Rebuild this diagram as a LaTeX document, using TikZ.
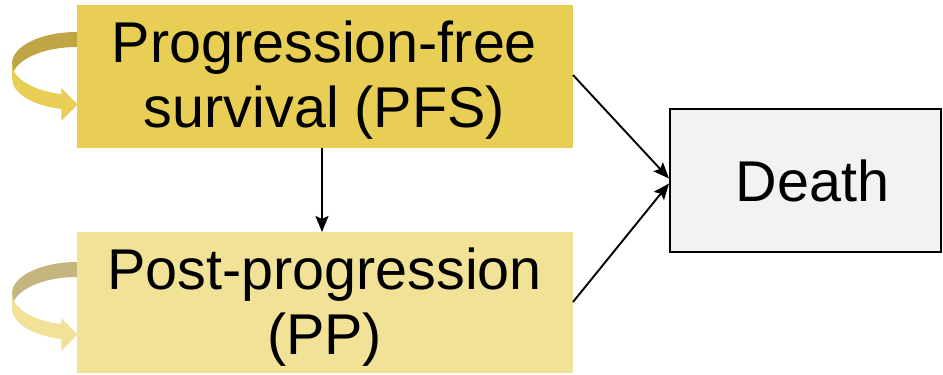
\documentclass[tikz,border=0pt]{standalone}
\usepackage{fontspec}
\setmainfont{Liberation Sans}
\usetikzlibrary{arrows.meta,calc}
\definecolor{pfsfill}{RGB}{232,206,85}
\definecolor{pfsdark}{RGB}{191,165,68}
\definecolor{ppfill}{RGB}{242,226,151}
\definecolor{ppdark}{RGB}{196,182,126}
\definecolor{deathfill}{RGB}{242,242,242}
\begin{document}
\begin{tikzpicture}[x=1pt,y=1pt,
  statebox/.style={draw=none,minimum width=496pt,inner sep=0pt,outer sep=0pt},
  deathbox/.style={draw=black,line width=2pt,fill=deathfill,minimum width=271pt,minimum height=143pt,inner sep=0pt,outer sep=1pt},
  lbl/.style={align=center,inner sep=0pt,font=\fontsize{57.5}{65}\selectfont},
  conn/.style={line width=1.9pt,-{Stealth[length=16pt,width=13pt,inset=3pt]}},
]
\useasboundingbox (0,0) rectangle (943,-375);
% self-loop ribbons
\foreach \dy/\dk/\lt in {0/pfsdark/pfsfill, -230/ppdark/ppfill}{
  \begin{scope}[yshift=\dy]
    \fill[\dk] (77,-32) arc[start angle=90,end angle=180,x radius=65,y radius=31.5]
      -- (12,-78.5) arc[start angle=180,end angle=90,x radius=65,y radius=31.5] -- cycle;
    \fill[\lt] (12,-63.5) arc[start angle=180,end angle=256,x radius=65,y radius=31.5]
      -- (61.3,-88) -- (77.5,-104.5) -- (61.3,-121) -- (61.3,-109.06)
      arc[start angle=256,end angle=180,x radius=65,y radius=31.5] -- cycle;
  \end{scope}
}
% boxes
\node[statebox,fill=pfsfill,minimum height=143pt] (pfs) at (324.5,-76.5) {};
\node[statebox,fill=ppfill,minimum height=141pt] (pp) at (324.5,-302.5) {};
\node[deathbox] (death) at (805.5,-180.5) {};
% texts
\node[lbl] (pfstext) at ([yshift=-4pt]pfs.center) {Progression-free\\survival (PFS)};
\node[lbl] (pptext) at ([yshift=-5pt]pp.center) {Post-progression\\(PP)};
\node[lbl] (deathtext) at ([xshift=7pt]death.center) {Death};
% connectors
\coordinate (pfsout) at (573,-75);
\coordinate (ppout) at (573,-302);
\coordinate (din1) at ($(death.west)+(0,2)$);
\coordinate (din2) at ($(death.west)+(0,-3)$);
\draw[conn] (pfsout) -- (din1);
\draw[conn] (ppout) -- (din2);
\draw[conn] (pfs.south -| 322,0) -- (pp.north -| 322,0);
\end{tikzpicture}
\end{document}
